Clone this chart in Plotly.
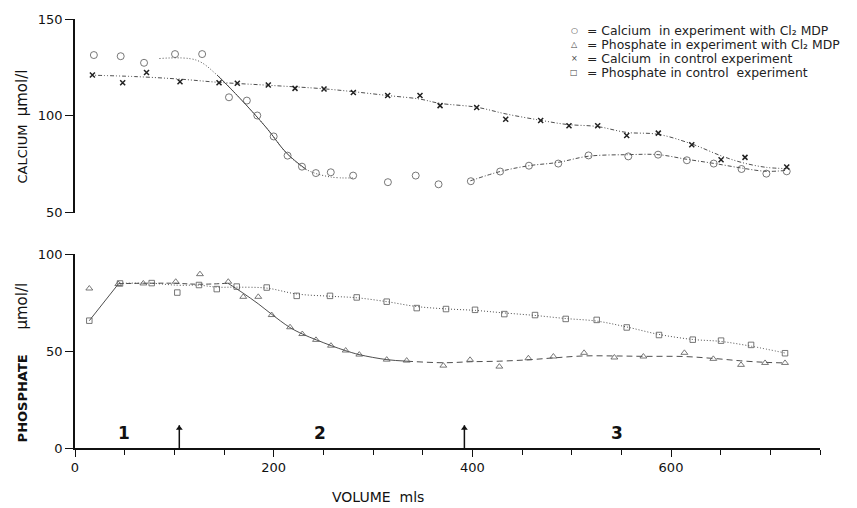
import plotly.graph_objects as go

# ---------------- data ----------------
# Calcium in experiment with Cl2MDP (circles)
ca_exp_x = [19, 46, 69.5, 100.7, 128, 155, 173, 183.5, 200, 214, 228.5, 242.5, 257.5, 280, 315, 343,
            366, 398.5, 428, 457, 486.5, 517, 557, 587, 616, 643, 671, 696, 716.5]
ca_exp_y = [131.4, 130.8, 127.4, 131.9, 131.9, 109.6, 107.9, 100.2, 89.4, 79.5, 73.8, 70.5, 70.9, 69.2, 65.8, 69.2,
            64.7, 66.3, 71.3, 74.3, 75.4, 79.6, 79.1, 80.0, 77.1, 75.4, 72.6, 70.2, 71.4]

# Calcium in control experiment (x marks)
ca_ctl_x = [17.5, 48, 72, 105.7, 145, 163.4, 194.6, 221.5, 250.7, 280.2, 314.8, 347.3, 367.5, 404.4,
            433.6, 468.8, 497.3, 526.2, 555.4, 587.2, 620.9, 650.4, 674.5, 716.5]
ca_ctl_y = [121.1, 117.1, 122.4, 117.6, 117.1, 116.8, 115.9, 114.2, 113.9, 112.1, 110.5, 110.5, 105.3, 104.3,
            98.3, 97.6, 94.9, 94.9, 89.9, 91.1, 85.1, 77.4, 78.6, 73.6]

# Phosphate in experiment with Cl2MDP (triangles)
ph_exp_x = [14.4, 43.6, 68.8, 101.4, 125.8, 154.3, 169.4, 184.5, 198, 216.5, 228.8, 242.6, 257.7, 272.5, 286.2,
            313.8, 333.9, 370.8, 397.7, 427.2, 456.4, 481.6, 512.5, 543, 572.2, 613.5, 642.6, 670.5, 694.7, 714.8]
ph_exp_y = [82.3, 84.6, 84.9, 85.8, 89.7, 85.8, 78.0, 78.0, 68.6, 62.3, 58.8, 55.8, 52.8, 50.3, 48.2,
            45.6, 45.1, 42.5, 45.5, 42.0, 46.3, 47.2, 49.1, 46.7, 47.2, 49.1, 46.0, 42.9, 43.9, 43.9]

# Phosphate in control experiment (squares)
ph_ctl_x = [14.4, 45.3, 77.2, 103, 124.8, 142.7, 162.8, 193, 223.2, 256.7, 283.6, 313.8, 344, 373.5, 402.7,
            432.2, 463.1, 494, 525.2, 555.4, 587.9, 621.9, 650.4, 680.6, 714.8]
ph_ctl_y = [65.7, 84.9, 85.1, 80.2, 84.1, 82.0, 83.3, 82.8, 78.5, 78.5, 77.7, 75.5, 72.2, 71.7, 71.3,
            69.1, 68.6, 66.6, 66.1, 62.2, 58.3, 55.9, 55.4, 53.2, 48.9]

# hand-drawn fitted curves (knots)
ca_exp_c1_x = [85, 122, 143, 166, 193, 213, 233, 257, 280]
ca_exp_c1_y = [129.6, 128.8, 121.1, 109.1, 93.7, 80.8, 72.3, 68.5, 68.0]
ca_exp_c2_x = [398, 428, 457, 486, 517, 557, 587, 616, 643, 671, 696, 716]
ca_exp_c2_y = [66.5, 71.3, 74.3, 76.0, 79.2, 80.0, 80.0, 77.6, 75.5, 73.1, 71.4, 71.9]

ca_ctl_c_x = [17, 60, 105, 145, 195, 250, 280, 315, 347, 367, 404, 434, 468, 495, 526, 555, 587, 621, 650, 671, 695, 716]
ca_ctl_c_y = [121, 120.3, 119, 117.3, 115.8, 114, 112.5, 110.5, 108.7, 106.5, 104.5, 101, 97.8, 95.6, 94.5,
              91.5, 90.5, 85.5, 79.5, 76, 73.5, 72.8]

ph_exp_c1_x = [14.4, 43.6]
ph_exp_c1_y = [65.7, 84.6]
ph_exp_c2_x = [43.6, 70, 100, 125, 154]
ph_exp_c2_y = [84.8, 85, 85, 84.5, 85]
ph_exp_c3_x = [154, 169, 184.5, 198, 216, 229, 243, 258, 272, 286, 314, 334]
ph_exp_c3_y = [85, 80, 74.4, 69, 62.3, 58.8, 55.8, 52.8, 50.3, 48.2, 45.6, 44.8]
ph_exp_c4_x = [334, 371, 398, 427, 456, 482, 512, 543, 572, 613, 643, 670, 695, 715]
ph_exp_c4_y = [44.8, 44, 44.5, 44.8, 45.5, 46.5, 47.5, 47.5, 47.3, 47.2, 46.2, 45, 44.2, 43.9]

ph_ctl_c_x = [45, 77, 103, 125, 143, 163, 193, 223, 257, 284, 314, 344, 373, 403, 432, 463, 494, 525, 555,
              588, 622, 650, 681, 715]
ph_ctl_c_y = [85, 85, 84, 84, 83, 83, 82.5, 79.5, 78.3, 77.5, 75.5, 73, 71.8, 71, 69.7, 68.4, 66.8, 65.5, 62.5,
              58.6, 56, 55, 52.5, 49]

arrow_x = [105, 392]
arrow_top = 11.7
phase_x = [49, 247, 546]
phase_labels = ["1", "2", "3"]

x_labeled = [0, 200, 400, 600]
x_unlabeled = [50, 100, 150, 250, 300, 350, 450, 500, 550, 650, 700, 750]

legend_symbols = ["○", "△", "×", "□"]
legend_texts = [
    "= Calcium\u00a0 in experiment with Cl\u2082\u00a0MDP",
    "= Phosphate in experiment with Cl\u2082\u00a0MDP",
    "= Calcium\u00a0 in control experiment",
    "= Phosphate in control\u00a0 experiment",
]

# ---------------- figure ----------------
FONT = "DejaVu Sans"
LC = "#3a3a3a"
MC = "#555555"
NB = "\u00a0"

fig = go.Figure()

def curve(x, y, axis, dash, width=0.9):
    fig.add_trace(go.Scatter(x=x, y=y, mode="lines", xaxis=axis[0], yaxis=axis[1],
                             line=dict(color=LC, width=width, dash=dash, shape="spline", smoothing=1.0),
                             hoverinfo="skip", showlegend=False))

TOP = ("x2", "y2")
BOT = ("x", "y")

# curves - top
curve(ca_exp_c1_x, ca_exp_c1_y, TOP, "1px,2px")
curve(ca_exp_c1_x[2:7], ca_exp_c1_y[2:7], TOP, "solid")
curve(ca_exp_c2_x, ca_exp_c2_y, TOP, "4px,2px,1px,2px")
curve(ca_ctl_c_x, ca_ctl_c_y, TOP, "1px,2px,1px,2px,4px,2px")
# curves - bottom
curve(ph_exp_c1_x, ph_exp_c1_y, BOT, "solid")
curve(ph_exp_c2_x, ph_exp_c2_y, BOT, "5px,3px")
curve(ph_exp_c3_x, ph_exp_c3_y, BOT, "solid")
curve(ph_exp_c4_x, ph_exp_c4_y, BOT, "6px,4px")
curve(ph_ctl_c_x, ph_ctl_c_y, BOT, "1px,2px")

def pts(x, y, axis, symbol, size, color=MC, lw=0.8):
    fig.add_trace(go.Scatter(x=x, y=y, mode="markers", xaxis=axis[0], yaxis=axis[1],
                             marker=dict(symbol=symbol, size=size, color=color,
                                         line=dict(color=color, width=lw)),
                             showlegend=False))

pts(ca_exp_x, ca_exp_y, TOP, "circle-open", 7)
pts(ca_ctl_x, ca_ctl_y, TOP, "x-thin-open", 5, color="#222222", lw=1.5)
pts(ph_exp_x, ph_exp_y, BOT, "triangle-up-open", 6)
pts(ph_ctl_x, ph_ctl_y, BOT, "square-open", 5.5)

# arrows at the phase changes (shaft + head)
for ax_ in arrow_x:
    fig.add_trace(go.Scatter(x=[ax_, ax_], y=[0, arrow_top], mode="lines", xaxis="x", yaxis="y",
                             line=dict(color="#111111", width=1.5), hoverinfo="skip", showlegend=False))
fig.add_trace(go.Scatter(x=arrow_x, y=[arrow_top - 1.5] * len(arrow_x), mode="markers", xaxis="x", yaxis="y",
                         marker=dict(symbol="triangle-up", size=6, color="#111111"),
                         hoverinfo="skip", showlegend=False))

annotations = []
for px_, lab in zip(phase_x, phase_labels):
    annotations.append(dict(x=px_, y=7.6, xref="x", yref="y", text="<b>%s</b>" % lab, showarrow=False,
                            font=dict(family=FONT, size=17, color="#111111")))
# legend
leg_y = [29, 43, 57, 71]
for sym, txt, py in zip(legend_symbols, legend_texts, leg_y):
    yy = (448 - py) / 431
    annotations.append(dict(x=(574 - 75) / 745, y=yy, xref="paper", yref="paper",
                            xanchor="center", yanchor="middle", text=sym, showarrow=False,
                            font=dict(family=FONT, size=8, color="#444444")))
    annotations.append(dict(x=(585 - 75) / 745, y=yy, xref="paper", yref="paper",
                            xanchor="left", yanchor="middle", text=txt, showarrow=False,
                            font=dict(family=FONT, size=12.4, color="#222222")))

UNIT = "<span style='font-size:15px'>μmol/l</span>"
titlefont = dict(family=FONT, size=13, color="#111111")
# axis titles (explicit anchors so the rotated boxes are centred)
annotations.append(dict(x=(22 - 75) / 745, y=(448 - 125) / 431, xref="paper", yref="paper",
                        xanchor="center", yanchor="middle", textangle=-90, showarrow=False,
                        text="CALCIUM" + NB * 2 + UNIT, font=titlefont))
annotations.append(dict(x=(22 - 75) / 745, y=(448 - 362) / 431, xref="paper", yref="paper",
                        xanchor="center", yanchor="middle", textangle=-90, showarrow=False,
                        text="<b>PHOSPHATE</b>" + NB * 6 + UNIT, font=titlefont))
annotations.append(dict(x=(378 - 75) / 745, y=(448 - 497) / 431, xref="paper", yref="paper",
                        xanchor="center", yanchor="middle", showarrow=False,
                        text="VOLUME" + NB * 2 + "mls", font=dict(family=FONT, size=14, color="#111111")))

tickfont = dict(family=FONT, size=13, color="#111111")

fig.update_layout(
    width=857, height=508,
    margin=dict(l=75, r=37, t=17, b=60),
    paper_bgcolor="white", plot_bgcolor="white",
    showlegend=False,
    annotations=annotations,
    xaxis=dict(domain=[0, 1], anchor="y", range=[0, 750], showgrid=False, zeroline=False,
               showline=True, linecolor="#111111", linewidth=1.6,
               tickmode="array", tickvals=x_labeled,
               ticks="outside", ticklen=7, tickwidth=1.3, tickcolor="#111111", tickfont=tickfont,
               minor=dict(tickmode="array", tickvals=x_unlabeled, ticks="outside", ticklen=5,
                          tickwidth=1.3, tickcolor="#111111", showgrid=False)),
    yaxis=dict(domain=[0, (448 - 253.3) / 431], anchor="x", range=[0, 100], showgrid=False, zeroline=False,
               showline=True, linecolor="#111111", linewidth=1.6,
               tickmode="array", tickvals=[0, 50, 100], ticks="outside", ticklen=8, tickwidth=1.3,
               tickcolor="#111111", tickfont=tickfont),
    xaxis2=dict(domain=[0, 1], anchor="y2", matches="x", range=[0, 750], showticklabels=False,
                showline=False, showgrid=False, zeroline=False, ticks=""),
    yaxis2=dict(domain=[(448 - 211.7) / 431, 1], anchor="x2", range=[50, 150], showgrid=False,
                zeroline=False, showline=True, linecolor="#111111", linewidth=1.6,
                tickmode="array", tickvals=[50, 100, 150], ticks="outside", ticklen=8, tickwidth=1.3,
                tickcolor="#111111", tickfont=tickfont),
)

fig.write_html("out.html")
